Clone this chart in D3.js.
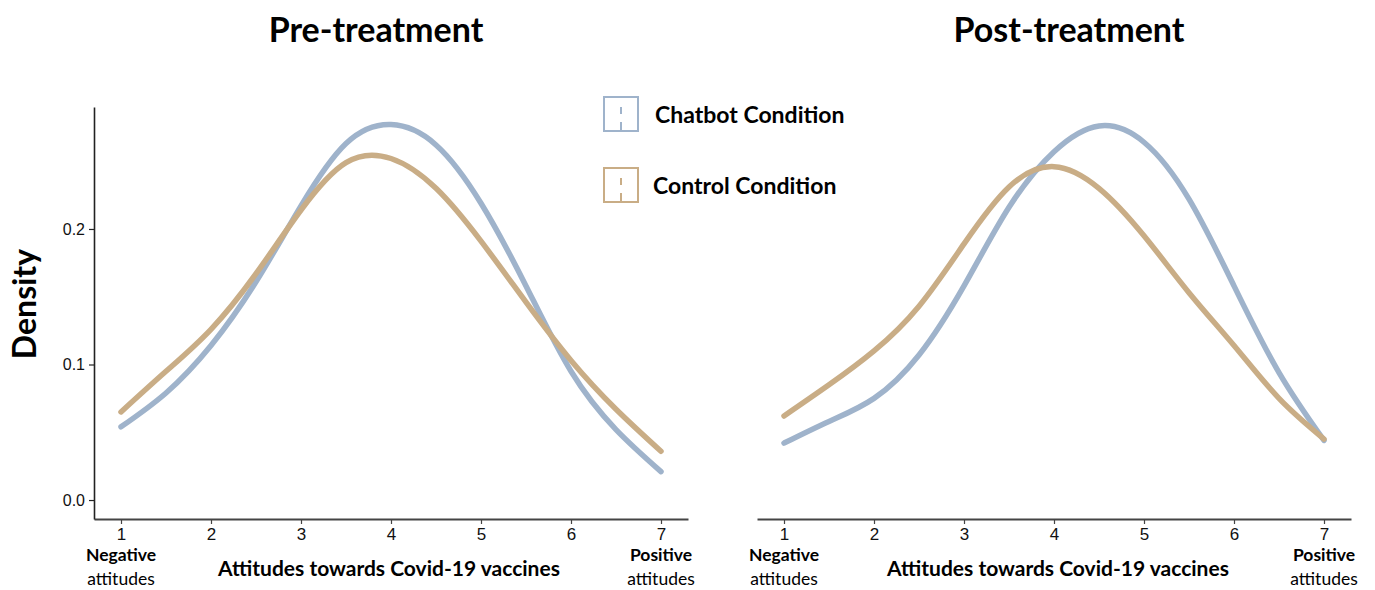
<!DOCTYPE html>
<html>
<head>
<meta charset="utf-8">
<script src="https://cdn.jsdelivr.net/npm/d3@7"></script>
<style>
  body { margin: 0; background: #fff; }
  svg { display: block; }
</style>
</head>
<body>
<svg id="chart" width="1375" height="590"></svg>
<script>
var scores = [1, 1.5, 2, 2.5, 3, 3.5, 4, 4.5, 5, 5.5, 6, 6.5, 7];
var xTicks = [1, 2, 3, 4, 5, 6, 7];
var yTicks = [0, 0.1, 0.2];

var preChatbot  = [0.054, 0.079, 0.114, 0.161, 0.217, 0.263, 0.277, 0.262, 0.219, 0.158, 0.095, 0.052, 0.021];
var preControl  = [0.065, 0.095, 0.126, 0.167, 0.214, 0.249, 0.252, 0.230, 0.191, 0.146, 0.103, 0.067, 0.036];
var postChatbot = [0.042, 0.058, 0.075, 0.107, 0.158, 0.216, 0.257, 0.276, 0.264, 0.222, 0.158, 0.094, 0.044];
var postControl = [0.062, 0.085, 0.110, 0.143, 0.189, 0.231, 0.246, 0.230, 0.195, 0.153, 0.114, 0.075, 0.045];

var conditions = ["Chatbot Condition", "Control Condition"];
var colors = ["#9fb3cb", "#c9ad86"];

var svg = d3.select("#chart");
var labelFont = "Lato, 'Open Sans', sans-serif";
var tickFont = "'Liberation Sans', Arial, sans-serif";

var y = d3.scaleLinear().domain([-0.014, 0.29]).range([519, 107]);

function drawPanel(left, title, titleShift, captionShift, series, showY) {
  var x = d3.scaleLinear().domain([0.7, 7.3]).range([left, left + 594]);
  var g = svg.append("g");

  // x axis
  var xa = g.append("g")
      .attr("transform", "translate(0," + y.range()[0] + ")")
      .call(d3.axisBottom(x).tickValues(xTicks).tickFormat(d3.format("d"))
        .tickSize(5).tickSizeOuter(0).tickPadding(4));
  xa.select(".domain").attr("stroke", "#444").attr("stroke-width", 2);
  xa.selectAll(".tick line").attr("stroke", "#444").attr("stroke-width", 1.2);
  xa.selectAll(".tick text").attr("fill", "#111").style("font-family", tickFont).style("font-size", "17px");

  if (showY) {
    var ya = g.append("g")
        .attr("transform", "translate(" + left + ",0)")
        .call(d3.axisLeft(y).tickValues(yTicks).tickFormat(d3.format(".1f"))
          .tickSize(5).tickSizeOuter(0).tickPadding(4));
    ya.select(".domain").attr("stroke", "#222").attr("stroke-width", 1.6);
    ya.selectAll(".tick line").attr("stroke", "#222").attr("stroke-width", 1.2);
    ya.selectAll(".tick text").attr("fill", "#111").style("font-family", tickFont).style("font-size", "16px");
  }

  var line = d3.line()
      .x(function(d, i) { return x(scores[i]); })
      .y(function(d) { return y(d); })
      .curve(d3.curveNatural);

  g.selectAll("path.density")
      .data(series)
    .enter().append("path")
      .attr("class", "density")
      .attr("d", line)
      .attr("fill", "none")
      .attr("stroke", function(d, i) { return colors[i]; })
      .attr("stroke-width", 5.5)
      .attr("stroke-linecap", "round");

  // title
  g.append("text")
      .attr("x", x(4) + titleShift)
      .attr("y", 42)
      .attr("text-anchor", "middle")
      .style("font-family", labelFont)
      .style("font-weight", "bold")
      .style("font-size", "34px")
      .text(title);

  // axis caption + end notes
  g.append("text")
      .attr("x", x(4) + captionShift)
      .attr("y", 576)
      .attr("text-anchor", "middle")
      .style("font-family", labelFont)
      .style("font-weight", "bold")
      .style("font-size", "21px")
      .text("Attitudes towards Covid-19 vaccines");

  [[1, "Negative"], [7, "Positive"]].forEach(function(e) {
    g.append("text")
        .attr("x", x(e[0]))
        .attr("y", 561)
        .attr("text-anchor", "middle")
        .style("font-family", labelFont)
        .style("font-weight", "bold")
        .style("font-size", "17.5px")
        .text(e[1]);
    g.append("text")
        .attr("x", x(e[0]))
        .attr("y", 585)
        .attr("text-anchor", "middle")
        .style("font-family", labelFont)
        .style("font-size", "17.5px")
        .text("attitudes");
  });
}

drawPanel(94, "Pre-treatment", -15, -2, [preChatbot, preControl], true);
drawPanel(757, "Post-treatment", 15, 4, [postChatbot, postControl], false);

// y title
svg.append("text")
    .attr("transform", "translate(36,304)rotate(-90)")
    .attr("text-anchor", "middle")
    .style("font-family", labelFont)
    .style("font-weight", "bold")
    .style("font-size", "32px")
    .text("Density");

// legend
var legend = svg.selectAll("g.legend")
    .data(conditions)
  .enter().append("g")
    .attr("class", "legend")
    .attr("transform", function(d, i) { return "translate(604," + (97 + i * 71) + ")"; });

legend.append("rect")
    .attr("width", 34).attr("height", 34)
    .attr("fill", "none")
    .attr("stroke", function(d, i) { return colors[i]; })
    .attr("stroke-width", 2);
legend.append("line")
    .attr("x1", 17).attr("x2", 17).attr("y1", 10).attr("y2", 17)
    .attr("stroke", function(d, i) { return colors[i]; })
    .attr("stroke-width", 2);
legend.append("line")
    .attr("x1", 17).attr("x2", 17).attr("y1", 25).attr("y2", 34)
    .attr("stroke", function(d, i) { return colors[i]; })
    .attr("stroke-width", 2);
legend.append("text")
    .attr("x", function(d, i) { return i ? 49 : 51; })
    .attr("y", 26)
    .style("font-family", labelFont)
    .style("font-weight", "bold")
    .style("font-size", "23px")
    .text(function(d) { return d; });
</script>
</body>
</html>
